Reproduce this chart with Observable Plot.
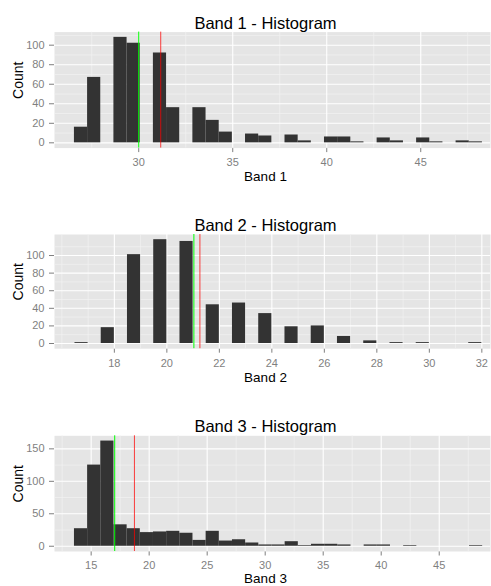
<!DOCTYPE html>
<html>
<head>
<meta charset="utf-8">
<script src="https://cdn.jsdelivr.net/npm/d3@7"></script>
<script src="https://cdn.jsdelivr.net/npm/@observablehq/plot@0.6"></script>
<style>
  html, body { margin: 0; padding: 0; background: #ffffff; }
  #chart svg { display: block; }
</style>
</head>
<body>
<div id="chart"></div>
<script>
// ---- Data ----
// Band 1: 31 bins starting at 26.58, width 0.70
const band1Start = 26.58, band1Width = 0.70;
const band1Counts = [16, 67, 0, 108, 102, 0, 92, 36, 0, 36, 23, 11, 0, 9, 7, 0, 8, 2, 0, 6, 6, 1, 0, 5, 2, 0, 5, 1, 0, 2, 1];
const band1Green = 30.0, band1Red = 31.17;

// Band 2: 31 bins starting at 16.5, width 0.5
const band2Start = 16.5, band2Width = 0.5;
const band2Counts = [1, 0, 18, 0, 101, 0, 118, 0, 116, 0, 44, 0, 46, 0, 34, 0, 19, 0, 20, 0, 8, 0, 3, 0, 1, 0, 1, 0, 0, 0, 1];
const band2Green = 21.03, band2Red = 21.26;

// Band 3: 31 bins starting at 13.56, width 1.135
const band3Start = 13.56, band3Width = 1.135;
const band3Counts = [27, 125, 162, 33, 27, 21, 22, 23, 20, 9, 23, 8, 10, 5, 2, 2, 7, 1, 3, 3, 2, 0, 2, 2, 0, 1, 0, 0, 0, 0, 1];
const band3Green = 17.03, band3Red = 18.73;

// Tick labels / grid breaks
const band1XTicks = [30, 35, 40, 45], band1XMinor = [27.5, 32.5, 37.5, 42.5, 47.5];
const band1YTicks = [0, 20, 40, 60, 80, 100], band1YMinor = [10, 30, 50, 70, 90, 110];
const band2XTicks = [18, 20, 22, 24, 26, 28, 30, 32], band2XMinor = [16, 17, 19, 21, 23, 25, 27, 29, 31];
const band2YTicks = [0, 20, 40, 60, 80, 100], band2YMinor = [10, 30, 50, 70, 90, 110];
const band3XTicks = [15, 20, 25, 30, 35, 40, 45], band3XMinor = [12.5, 17.5, 22.5, 27.5, 32.5, 37.5, 42.5, 47.5];
const band3YTicks = [0, 50, 100, 150], band3YMinor = [25, 75, 125];

function bins(start, width, counts) {
  return counts.map((c, i) => ({x1: start + i * width, x2: start + (i + 1) * width, count: c}))
               .filter(d => d.count > 0);
}

const W = 491, ML = 54, MR = 1;

function panel(cfg) {
  const data = bins(cfg.start, cfg.width, cfg.counts);
  return Plot.plot({
    width: W,
    height: cfg.height,
    marginLeft: ML,
    marginRight: MR,
    marginTop: cfg.mt,
    marginBottom: cfg.mb,
    style: {
      fontFamily: "'Liberation Sans', Arial, sans-serif",
      fontSize: "11px",
      color: "#7F7F7F",
      background: "#ffffff",
      overflow: "visible"
    },
    x: {domain: cfg.xDomain, ticks: cfg.xTicks, tickSize: 4.5, tickPadding: 5.5, label: null},
    y: {domain: cfg.yDomain, ticks: cfg.yTicks, tickSize: 5, tickPadding: 5, label: null},
    marks: [
      Plot.frame({fill: "#E5E5E5", stroke: null}),
      Plot.gridX(cfg.xMinor, {stroke: "#F2F2F2", strokeOpacity: 1, strokeWidth: 0.7}),
      Plot.gridY(cfg.yMinor, {stroke: "#F2F2F2", strokeOpacity: 1, strokeWidth: 0.7}),
      Plot.gridX(cfg.xTicks, {stroke: "#FFFFFF", strokeOpacity: 1, strokeWidth: 1.1}),
      Plot.gridY(cfg.yTicks, {stroke: "#FFFFFF", strokeOpacity: 1, strokeWidth: 1.1}),
      Plot.rectY(data, {x1: "x1", x2: "x2", y: "count", fill: "#333333"}),
      Plot.ruleX([cfg.green], {stroke: "#00FF00", strokeWidth: 1}),
      Plot.ruleX([cfg.red], {stroke: "#FF0000", strokeOpacity: 0.75, strokeWidth: 1}),
      Plot.text([cfg.title], {text: d => d, frameAnchor: "top", lineAnchor: "bottom", dy: -3.6, dx: -7,
        fontSize: 16.5, fill: "#000000"}),
      Plot.text([cfg.xLabel], {text: d => d, frameAnchor: "bottom", lineAnchor: "bottom", dy: cfg.xLabelDy, dx: -7,
        fontSize: 13.5, fill: "#000000"}),
      Plot.text(["Count"], {text: d => d, frameAnchor: "left", rotate: -90, dx: -36, dy: 8.8,
        fontSize: 14, fill: "#000000"})
    ]
  });
}

const chart = document.getElementById("chart");
chart.append(panel({
  height: 200, mt: 31.6, mb: 52.4,
  start: band1Start, width: band1Width, counts: band1Counts,
  green: band1Green, red: band1Red,
  xDomain: [25.52, 48.71], yDomain: [-5.4, 113.4],
  xTicks: band1XTicks, xMinor: band1XMinor, yTicks: band1YTicks, yMinor: band1YMinor,
  title: "Band 1 - Histogram", xLabel: "Band 1", xLabelDy: 33
}));
chart.append(panel({
  height: 200, mt: 34, mb: 51.8,
  start: band2Start, width: band2Width, counts: band2Counts,
  green: band2Green, red: band2Red,
  xDomain: [15.72, 32.33], yDomain: [-5.9, 123.9],
  xTicks: band2XTicks, xMinor: band2XMinor, yTicks: band2YTicks, yMinor: band2YMinor,
  title: "Band 2 - Histogram", xLabel: "Band 2", xLabelDy: 33
}));
chart.append(panel({
  height: 186, mt: 35.3, mb: 35,
  start: band3Start, width: band3Width, counts: band3Counts,
  green: band3Green, red: band3Red,
  xDomain: [11.84, 49.42], yDomain: [-8.1, 170.1],
  xTicks: band3XTicks, xMinor: band3XMinor, yTicks: band3YTicks, yMinor: band3YMinor,
  title: "Band 3 - Histogram", xLabel: "Band 3", xLabelDy: 31
}));
</script>
</body>
</html>
